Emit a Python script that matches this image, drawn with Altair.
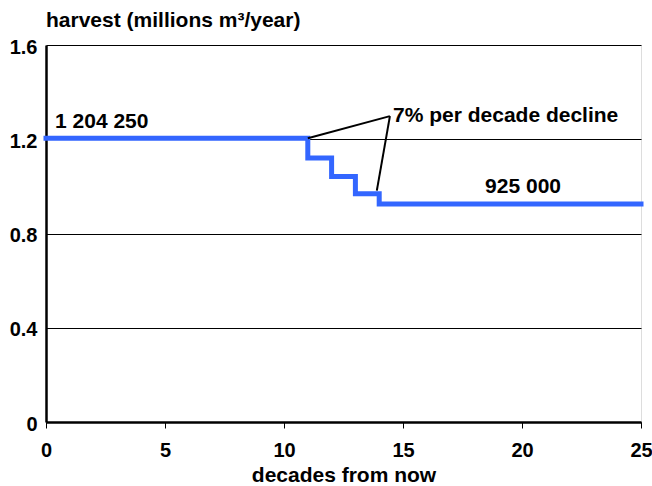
import altair as alt
import pandas as pd

# step series
decades = [0, 11, 12, 13, 14, 25]
harvest = [1.20425, 1.12, 1.042, 0.969, 0.925, 0.925]

# annotation leader lines (x, y, x2, y2)
lead_x = [11.0, 13.9]
lead_y = [1.204, 0.982]
lead_x2 = [14.45, 14.45]
lead_y2 = [1.298, 1.298]

# labels
label_text = ["1 204 250", "7% per decade decline", "925 000"]
label_x = [0.38, 14.58, 18.45]
label_y = [1.247, 1.272, 0.970]

FONT = "Liberation Sans"

step_df = pd.DataFrame({"decade": decades, "harvest": harvest})
lead_df = pd.DataFrame({"x": lead_x, "y": lead_y, "x2": lead_x2, "y2": lead_y2})
lab_df = pd.DataFrame({"t": label_text, "x": label_x, "y": label_y})

xscale = alt.Scale(domain=[0, 25], nice=False, zero=False)
yscale = alt.Scale(domain=[0, 1.6], nice=False)

step = alt.Chart(step_df).mark_line(
    interpolate="step-after", color="#3366FF", strokeWidth=5, strokeCap="square"
).encode(
    x=alt.X("decade:Q", scale=xscale, axis=alt.Axis(
        values=[0, 5, 10, 15, 20, 25], title="decades from now", grid=False,
        labelFont=FONT, labelFontSize=20, labelFontWeight="bold", labelColor="black",
        labelPadding=12, tickSize=6, tickColor="black", tickWidth=1,
        domainColor="black", domainWidth=2.5,
        titleFont=FONT, titleFontSize=21, titleFontWeight="bold", titleColor="black",
        titlePadding=4, labelFlush=False)),
    y=alt.Y("harvest:Q", scale=yscale, axis=alt.Axis(
        values=[0, 0.4, 0.8, 1.2, 1.6], format="~g", title=None,
        labelFont=FONT, labelFontSize=20, labelFontWeight="bold", labelColor="black",
        labelPadding=9, labelBaseline="middle", labelOffset=2,
        ticks=False, grid=True, gridColor="black", gridWidth=1,
        domainColor="black", domainWidth=2.5)),
)

leads = alt.Chart(lead_df).mark_rule(color="black", strokeWidth=2).encode(
    x=alt.X("x:Q", scale=xscale), y=alt.Y("y:Q", scale=yscale),
    x2="x2:Q", y2="y2:Q",
)

labels = alt.Chart(lab_df).mark_text(
    font=FONT, fontSize=21, fontWeight="bold", color="black", align="left",
    baseline="alphabetic"
).encode(
    x=alt.X("x:Q", scale=xscale), y=alt.Y("y:Q", scale=yscale), text="t:N",
)

chart = alt.layer(step, leads, labels).properties(
    width=595, height=377,
    autosize=alt.AutoSizeParams(type="none"),
    padding={"left": 46, "top": 45, "right": 11, "bottom": 64},
    title=alt.TitleParams(
        "harvest (millions m³/year)", anchor="start", frame="group", orient="top",
        font=FONT, fontSize=21, fontWeight="bold", color="black",
        baseline="alphabetic", offset=8, dy=19),
).configure_view(stroke=None).configure(background="white")

chart.save("out.html", embed_options={"renderer": "svg", "actions": False})
